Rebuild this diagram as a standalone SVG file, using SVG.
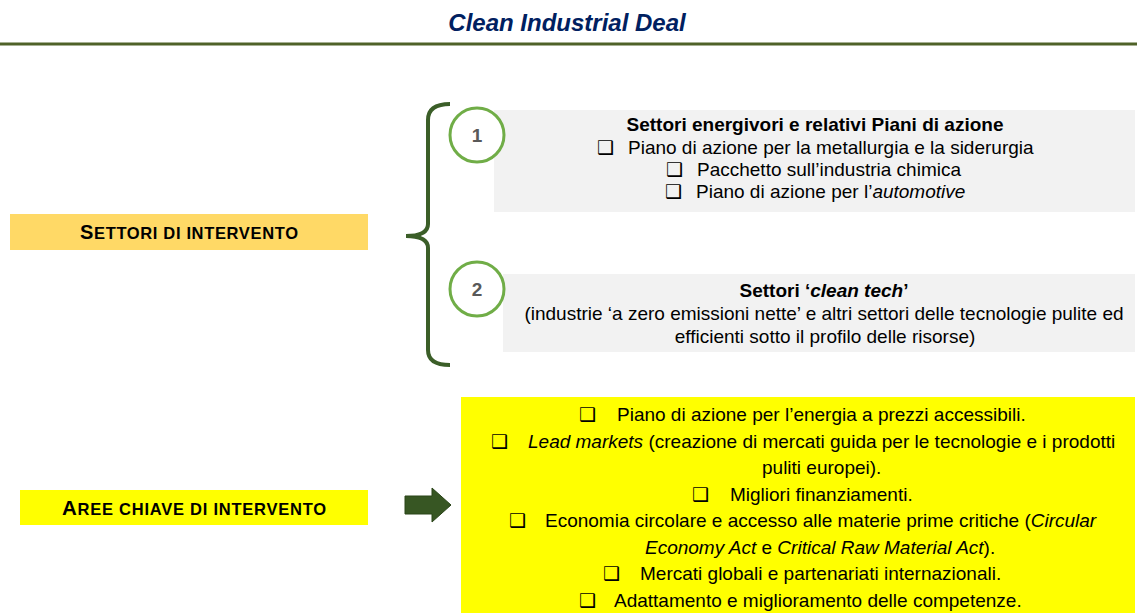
<svg xmlns="http://www.w3.org/2000/svg" width="1137" height="613" viewBox="0 0 1137 613">
<style>
.t{font-family:"Liberation Sans",Arial,sans-serif;font-size:19px;fill:#000}
.b{font-weight:bold}
.i{font-style:italic}
.bul{font-family:"DejaVu Sans",sans-serif;font-size:19px;fill:#000}
.num{font-family:"Liberation Sans",Arial,sans-serif;font-size:19px;font-weight:bold;fill:#595959}
.circ{fill:#fff;stroke:#70AD47;stroke-width:3}
.gray{fill:#F2F2F2}
</style>
<rect width="1137" height="613" fill="#fff"/>
<g id="title">
<text x="567" y="31" text-anchor="middle" font-family="Liberation Sans,Arial,sans-serif" font-size="24" font-weight="bold" font-style="italic" fill="#002060">Clean Industrial Deal</text>
<line x1="0" y1="44" x2="1137" y2="44" stroke="#4F6228" stroke-width="3"/>
</g>
<g id="settori">
<rect x="10" y="214" width="358" height="36" fill="#FFD966"/>
<text class="t b" x="80" y="239" textLength="218" lengthAdjust="spacing"><tspan font-size="20">S</tspan><tspan font-size="16.5">ETTORI DI INTERVENTO</tspan></text>
</g>
<g id="aree">
<rect x="20" y="490" width="348" height="35" fill="#FFFF00"/>
<text class="t b" x="62" y="515" textLength="264" lengthAdjust="spacing"><tspan font-size="20.5">A</tspan><tspan font-size="16.5">REE CHIAVE DI INTERVENTO</tspan></text>
</g>
<g id="connectors">
<path d="M450,104 Q428,104 428,120 L428,224 Q428,236 406,236 Q428,236 428,248 L428,350 Q428,365 450,365" fill="none" stroke="#3B5E28" stroke-width="4"/>
<polygon points="405,496 432,496 432,488 451,505 432,522 432,514 405,514" fill="#375623" stroke="#2A4419" stroke-width="1"/>
</g>
<g id="box1">
<rect class="gray" x="494" y="110" width="641" height="102"/>
<text class="t b" x="815" y="131" text-anchor="middle">Settori energivori e relativi Piani di azione</text>
<text class="bul" x="597" y="154">❑</text>
<text class="t" x="628" y="154">Piano di azione per la metallurgia e la siderurgia</text>
<text class="bul" x="666" y="176">❑</text>
<text class="t" x="697" y="176">Pacchetto sull’industria chimica</text>
<text class="bul" x="665" y="198">❑</text>
<text class="t" x="696" y="198">Piano di azione per l’<tspan class="i">automotive</tspan></text>
</g>
<g id="n1">
<circle class="circ" cx="477" cy="135" r="27"/>
<text class="num" x="477" y="142" text-anchor="middle">1</text>
</g>
<g id="box2">
<rect class="gray" x="503" y="274" width="632" height="78"/>
<text class="t b" x="824" y="297" text-anchor="middle">Settori ‘<tspan class="i">clean tech</tspan>’</text>
<text class="t" x="824" y="320" text-anchor="middle">(industrie ‘a zero emissioni nette’ e altri settori delle tecnologie pulite ed</text>
<text class="t" x="825" y="343" text-anchor="middle">efficienti sotto il profilo delle risorse)</text>
</g>
<g id="n2">
<circle class="circ" cx="477" cy="289" r="27"/>
<text class="num" x="477" y="296" text-anchor="middle">2</text>
</g>
<g id="aree-list">
<rect x="461" y="397" width="674" height="216" fill="#FFFF00"/>
<text class="bul" x="579" y="421">❑</text>
<text class="t" x="617" y="421">Piano di azione per l’energia a prezzi accessibili.</text>
<text class="bul" x="491" y="447.5">❑</text>
<text class="t" x="528" y="447.5"><tspan class="i">Lead markets</tspan> (creazione di mercati guida per le tecnologie e i prodotti</text>
<text class="t" x="762" y="474">puliti europei).</text>
<text class="bul" x="692" y="500.5">❑</text>
<text class="t" x="730" y="500.5">Migliori finanziamenti.</text>
<text class="bul" x="509" y="527">❑</text>
<text class="t" x="545" y="527">Economia circolare e accesso alle materie prime critiche (<tspan class="i">Circular</tspan></text>
<text class="t" x="645" y="553.5"><tspan class="i">Economy Act</tspan> e <tspan class="i">Critical Raw Material Act</tspan>).</text>
<text class="bul" x="603" y="580">❑</text>
<text class="t" x="640" y="580">Mercati globali e partenariati internazionali.</text>
<text class="bul" x="579" y="606.5">❑</text>
<text class="t" x="614" y="606.5">Adattamento e miglioramento delle competenze.</text>
</g>
</svg>
